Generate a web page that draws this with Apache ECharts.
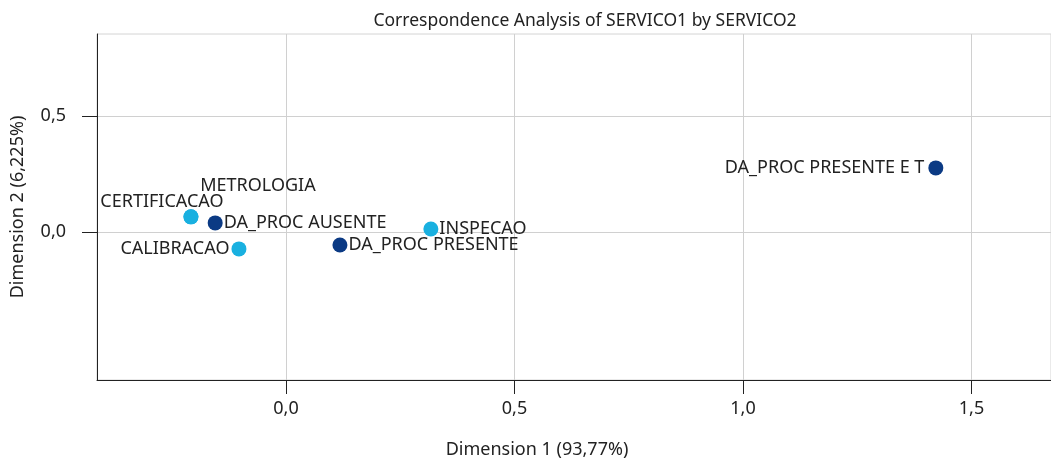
<!DOCTYPE html>
<html>
<head>
<meta charset="utf-8">
<script src="https://cdn.jsdelivr.net/npm/echarts@6/dist/echarts.min.js"></script>
<style>
    html, body { margin: 0; padding: 0; background: #fff; }
    #chart { width: 1051px; height: 459px; }
</style>
</head>
<body>
<div id="chart"></div>
<script>
// linhas (SERVICO1)
var rowNames = ['METROLOGIA', 'CERTIFICACAO', 'CALIBRACAO', 'INSPECAO'];
var rowX = [-0.208, -0.208, -0.103, 0.317];
var rowY = [0.065, 0.065, -0.073, 0.013];
// colunas (SERVICO2)
var colNames = ['DA_PROC AUSENTE', 'DA_PROC PRESENTE', 'DA_PROC PRESENTE E T'];
var colX = [-0.155, 0.118, 1.422];
var colY = [0.039, -0.056, 0.276];

var xTicks = [0, 0.5, 1, 1.5];
var yTicks = [0, 0.5];

// posicao dos rotulos
var labelPlace = {
    'METROLOGIA': {position: 'inside', offset: [67, -31]},
    'CERTIFICACAO': {position: 'inside', offset: [-29, -15]},
    'CALIBRACAO': {position: 'left', distance: 2},
    'INSPECAO': {position: 'right', distance: 1},
    'DA_PROC AUSENTE': {position: 'right', distance: 1},
    'DA_PROC PRESENTE': {position: 'right', distance: 1},
    'DA_PROC PRESENTE E T': {position: 'left', distance: 4}
};

var font = 'Noto Sans';

function toPoints(names, xs, ys) {
    var out = [];
    for (var i = 0; i < names.length; i++) {
        var p = labelPlace[names[i]];
        out.push({
            name: names[i],
            value: [xs[i], ys[i]],
            label: {position: p.position, offset: p.offset || [0, 0], distance: p.distance || 5}
        });
    }
    return out;
}

function fmt(v) {
    return v.toFixed(1).replace('.', ',');
}

var chart = echarts.init(document.getElementById('chart'));
var option = {
    animation: false,
    title: {
        text: 'Correspondence Analysis of SERVICO1 by SERVICO2',
        left: 580,
        top: 7,
        textAlign: 'center',
        textStyle: {fontFamily: font, fontSize: 17.5, fontWeight: 'normal', color: '#222'}
    },
    grid: {
        left: 97,
        right: 0,
        top: 34,
        bottom: 79,
        outerBoundsMode: 'none',
        containLabel: false,
        show: true,
        borderColor: '#d4d4d4',
        borderWidth: 1
    },
    xAxis: {
        type: 'value',
        min: -0.4136,
        max: 1.674,
        name: 'Dimension 1 (93,77%)',
        nameLocation: 'middle',
        nameGap: 61,
        nameTextStyle: {fontFamily: font, fontSize: 18, color: '#222', padding: [0, 74, 0, 0]},
        axisLine: {show: true, onZero: false, lineStyle: {color: '#222', width: 1}},
        axisTick: {show: true, length: 14, customValues: xTicks, lineStyle: {color: '#222'}},
        axisLabel: {
            customValues: xTicks,
            margin: 20,
            formatter: fmt,
            fontFamily: font, fontSize: 18, color: '#222'
        },
        splitLine: {show: true, lineStyle: {color: '#d0d0d0'}}
    },
    yAxis: {
        type: 'value',
        min: -0.638,
        max: 0.853,
        name: 'Dimension 2 (6,225%)',
        nameLocation: 'middle',
        nameGap: 70,
        nameTextStyle: {fontFamily: font, fontSize: 18, color: '#222'},
        axisLine: {show: true, onZero: false, lineStyle: {color: '#222', width: 1}},
        axisTick: {show: true, length: 15, customValues: yTicks, lineStyle: {color: '#222'}},
        axisLabel: {
            customValues: yTicks,
            margin: 31,
            formatter: fmt,
            fontFamily: font, fontSize: 18, color: '#222'
        },
        splitLine: {show: true, lineStyle: {color: '#d0d0d0'}}
    },
    series: [{
        name: 'SERVICO1',
        type: 'scatter',
        symbolSize: 15,
        itemStyle: {color: '#19b0e0', opacity: 1},
        label: {show: true, formatter: '{b}', fontFamily: font, fontSize: 18, color: '#222'},
        data: toPoints(rowNames, rowX, rowY)
    }, {
        name: 'SERVICO2',
        type: 'scatter',
        symbolSize: 15,
        itemStyle: {color: '#0b3a84', opacity: 1},
        label: {show: true, formatter: '{b}', fontFamily: font, fontSize: 18, color: '#222'},
        data: toPoints(colNames, colX, colY)
    }]
};
chart.setOption(option);
</script>
</body>
</html>
